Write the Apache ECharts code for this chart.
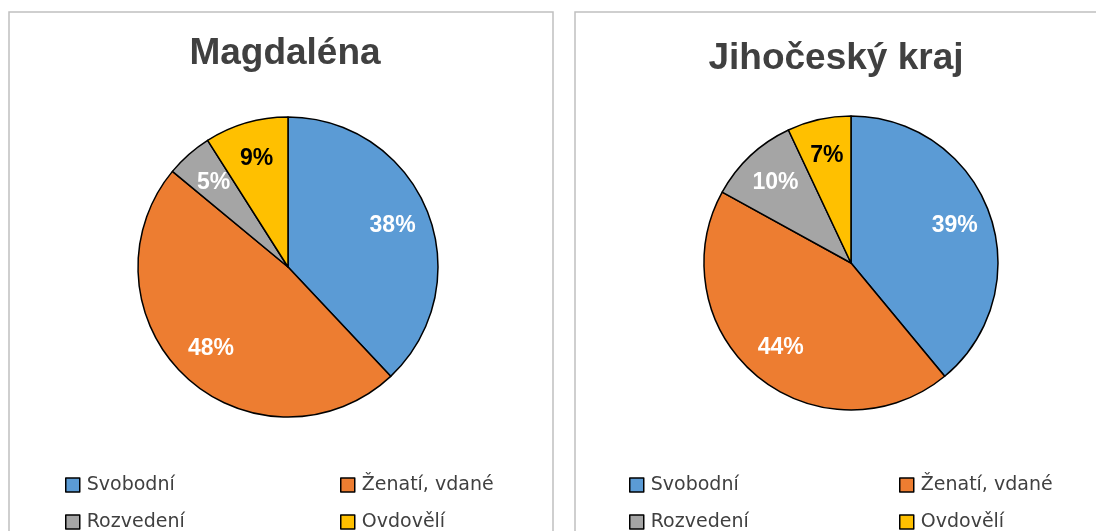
<!DOCTYPE html>
<html>
<head>
<meta charset="utf-8">
<script src="https://cdn.jsdelivr.net/npm/echarts@6/dist/echarts.min.js"></script>
<style>
html,body{margin:0;padding:0;background:#fff;}
#c{width:1096px;height:531px;}
</style>
</head>
<body>
<div id="c"></div>
<script>
// ---- data ----
const categories = ['Svobodní', 'Ženatí, vdané', 'Rozvedení', 'Ovdovělí'];
const titles = ['Magdaléna', 'Jihočeský kraj'];
const magdalenaValues = [38, 48, 5, 9];
const krajValues = [39, 44, 10, 7];

// ---- styles ----
const colors = ['#5B9BD5', '#ED7D31', '#A5A5A5', '#FFC000'];
const labelColors = ['#FFFFFF', '#FFFFFF', '#FFFFFF', '#000000'];
const panels = [
  { values: magdalenaValues, center: [288, 267], r: 150, titleX: 280, titleTop: 30,
    legendCols: [65, 340], box: [9, 12, 544, 540] },
  { values: krajValues, center: [851, 263], r: 147, titleX: 831, titleTop: 35,
    legendCols: [629, 899], box: [575, 12, 560, 540] }
];
const legendRows = [475, 512];

const chart = echarts.init(document.getElementById('c'), null, { renderer: 'canvas' });

const series = [];
const title = [];
const legend = [];
const graphic = [];

panels.forEach((p, pi) => {
  const data = categories.map((n, i) => ({
    name: n, value: p.values[i],
    itemStyle: { color: colors[i] }
  }));
  series.push({
    type: 'pie', center: p.center, radius: [0, p.r],
    startAngle: 90, clockwise: true, silent: true,
    avoidLabelOverlap: false,
    label: { show: false }, labelLine: { show: false },
    itemStyle: { borderColor: '#000', borderWidth: 1.5 },
    emphasis: { disabled: true },
    data: data
  });
  series.push({
    type: 'pie', center: p.center, radius: [p.r * 0.46, p.r],
    startAngle: 90, clockwise: true, silent: true,
    avoidLabelOverlap: false, z: 5,
    labelLine: { show: false },
    itemStyle: { color: 'rgba(0,0,0,0)', borderWidth: 0 },
    emphasis: { disabled: true },
    label: {
      show: true, position: 'inside', formatter: '{d}%',
      fontFamily: 'Liberation Sans, Arial, sans-serif', fontWeight: 'bold', fontSize: 23
    },
    data: categories.map((n, i) => ({
      name: n, value: p.values[i],
      label: { color: labelColors[i] }
    }))
  });
  title.push({
    text: titles[pi], left: p.titleX, top: p.titleTop, textAlign: 'center',
    textStyle: { fontFamily: 'Liberation Sans, Arial, sans-serif', fontWeight: 'bold',
                 fontSize: 37, color: '#404040' }
  });
  categories.forEach((n, i) => {
    legend.push({
      data: [n], left: p.legendCols[i % 2], top: legendRows[Math.floor(i / 2)],
      padding: 0, itemWidth: 14, itemHeight: 14, icon: 'rect',
      selectedMode: false,
      itemStyle: { borderColor: '#000', borderWidth: 1.5 },
      textStyle: { fontFamily: 'DejaVu Sans, Open Sans, sans-serif', fontSize: 19,
                   color: '#404040', lineHeight: 20, padding: [0, 0, 0, 2] }
    });
  });
  graphic.push({
    type: 'rect', silent: true, z: -1,
    shape: { x: p.box[0], y: p.box[1], width: p.box[2], height: p.box[3] },
    style: { fill: '#fff', stroke: '#C0C0C0', lineWidth: 1.5 }
  });
});

chart.setOption({
  animation: false,
  backgroundColor: '#fff',
  title: title,
  legend: legend,
  graphic: graphic,
  series: series
});
</script>
</body>
</html>
